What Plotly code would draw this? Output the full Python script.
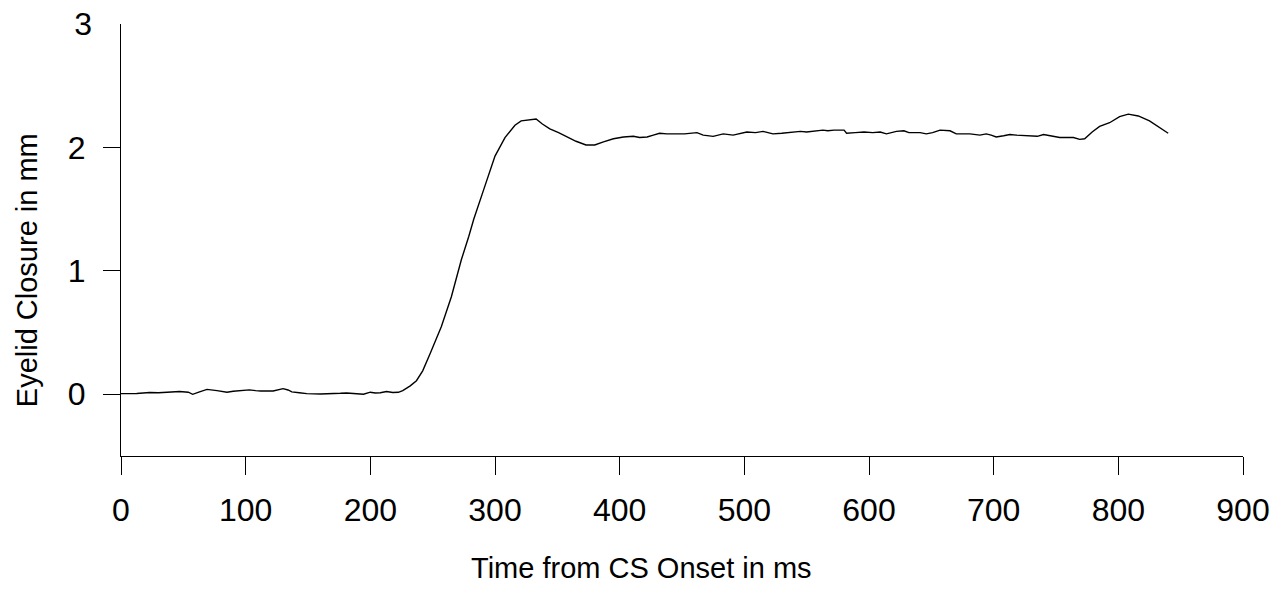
import plotly.graph_objects as go

# Time from CS onset (ms) and eyelid closure (mm)
time_ms = [0, 6, 12.6, 23, 30, 37, 47, 54, 57.5, 63, 69, 77, 85, 90, 95, 103, 108, 112,
           122, 126, 130, 134, 137, 143, 149, 160, 170, 176, 181, 188, 194.5, 200, 204,
           208, 213, 218, 222.5, 226, 232, 237, 242, 248, 257, 265, 273, 279, 283, 291,
           300, 308, 316, 321, 327, 333, 338, 344, 351, 357, 365, 373, 380, 387, 395,
           403, 411, 416, 422, 427, 432, 438, 443, 452, 462, 467, 475, 483, 491, 497,
           502, 509, 515, 519, 523, 530, 537, 545, 550, 555, 563, 567, 572, 580, 582,
           589, 596, 603, 609, 614, 622, 628, 632, 641, 646, 651, 657, 665, 670, 676,
           681, 689, 694, 698, 702, 708, 713, 718, 724, 729, 735, 740, 746, 753, 759,
           764, 769, 773, 779, 785, 793, 801, 808, 816, 825, 833, 840]
closure_mm = [0.005, 0.005, 0.006, 0.014, 0.012, 0.017, 0.022, 0.017, 0.0, 0.02, 0.04,
              0.03, 0.017, 0.025, 0.027, 0.036, 0.03, 0.027, 0.027, 0.035, 0.046, 0.035,
              0.02, 0.012, 0.005, 0.002, 0.003, 0.008, 0.011, 0.006, 0.0, 0.017, 0.01,
              0.012, 0.022, 0.015, 0.016, 0.03, 0.068, 0.11, 0.19, 0.33, 0.55, 0.79, 1.09,
              1.28, 1.42, 1.66, 1.93, 2.08, 2.18, 2.215, 2.225, 2.23, 2.19, 2.15, 2.12,
              2.09, 2.05, 2.02, 2.02, 2.045, 2.07, 2.085, 2.09, 2.08, 2.085, 2.1, 2.115,
              2.11, 2.11, 2.11, 2.12, 2.10, 2.09, 2.11, 2.10, 2.115, 2.125, 2.12, 2.13,
              2.12, 2.11, 2.115, 2.12, 2.13, 2.125, 2.13, 2.14, 2.135, 2.14, 2.14, 2.115,
              2.12, 2.125, 2.12, 2.125, 2.11, 2.13, 2.135, 2.12, 2.12, 2.11, 2.12, 2.14,
              2.135, 2.11, 2.11, 2.11, 2.10, 2.11, 2.10, 2.085, 2.095, 2.105, 2.1, 2.095,
              2.09, 2.09, 2.105, 2.095, 2.08, 2.08, 2.08, 2.065, 2.07, 2.125, 2.17, 2.20,
              2.25, 2.27, 2.255, 2.215, 2.165, 2.115]

x_ticks = [0, 100, 200, 300, 400, 500, 600, 700, 800, 900]
y_ticks = [0, 1, 2]
y_top_label = [3]
x_title = "Time from CS Onset in ms"
y_title = "Eyelid Closure in mm"

FONT = "Liberation Sans, Arial, Helvetica, sans-serif"

fig = go.Figure()
fig.add_trace(go.Scatter(x=time_ms, y=closure_mm, mode="lines",
                         line=dict(color="black", width=1.4), showlegend=False))

fig.update_layout(
    width=1286, height=589,
    margin=dict(l=121, r=43, t=24, b=133, autoexpand=False),
    paper_bgcolor="white", plot_bgcolor="white",
    font=dict(family=FONT, color="black"),
    xaxis=dict(range=[0, 900], tickvals=x_ticks, ticks="outside", ticklen=18,
               tickwidth=1, tickcolor="black", showline=True, linecolor="black",
               linewidth=1, showgrid=False, zeroline=False, automargin=False,
               tickfont=dict(size=32, family=FONT, color="black"),
               ticklabelstandoff=8),
    yaxis=dict(range=[-0.5, 3], tickvals=y_ticks, ticks="outside", ticklen=17,
               tickwidth=1, tickcolor="black", showline=True, linecolor="black",
               linewidth=1, showgrid=False, zeroline=False, automargin=False,
               tickfont=dict(size=32, family=FONT, color="black"),
               ticklabelstandoff=11),
    yaxis2=dict(range=[-0.5, 3], tickvals=y_top_label, overlaying="y", side="left",
                ticks="", showline=False, showgrid=False, zeroline=False,
                automargin=False, ticklabeloverflow="allow",
                tickfont=dict(size=32, family=FONT, color="black"),
                ticklabelstandoff=28),
)
# invisible trace to activate yaxis2
fig.add_trace(go.Scatter(x=[None], y=[None], yaxis="y2", showlegend=False))

fig.add_annotation(text=x_title, xref="paper", yref="paper", x=0.4643, y=-0.26,
                   xanchor="center", yanchor="middle", showarrow=False,
                   font=dict(size=29, family=FONT, color="black"))
fig.add_annotation(text=y_title, xref="paper", yref="paper", x=-0.0838, y=0.43,
                   xanchor="center", yanchor="middle", textangle=-90, showarrow=False,
                   font=dict(size=29, family=FONT, color="black"))

# remove the default 8px page margin so the figure fills the window exactly
fig.write_html("out.html", config={"displayModeBar": False},
               post_script="document.body.style.margin='0';")
